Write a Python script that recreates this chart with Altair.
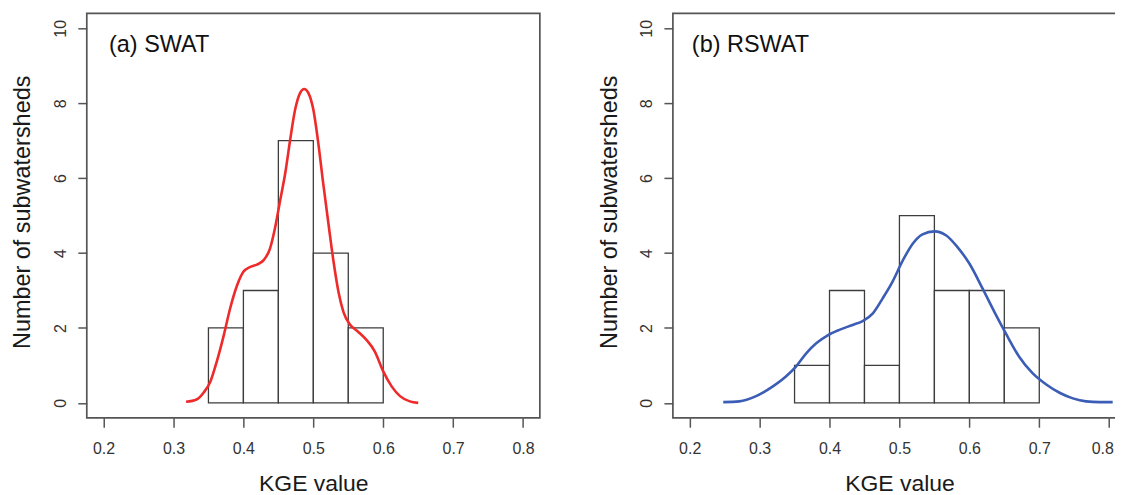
import altair as alt
import pandas as pd

FONT = "Liberation Sans"

# ---- data ----
x_ticks = [0.2, 0.3, 0.4, 0.5, 0.6, 0.7, 0.8]
y_ticks = [0, 2, 4, 6, 8, 10]
panel_labels = ["(a) SWAT", "(b) RSWAT"]

edges_a = [0.35, 0.40, 0.45, 0.50, 0.55, 0.60]
counts_a = [2, 3, 7, 4, 2]

edges_b = [0.35, 0.40, 0.45, 0.50, 0.55, 0.60, 0.65, 0.70]
counts_b = [1, 3, 1, 5, 3, 3, 2]

dens_a_x = [0.318, 0.333, 0.343, 0.353, 0.362, 0.372, 0.381, 0.391, 0.400, 0.410,
            0.419, 0.429, 0.438, 0.445, 0.452, 0.460, 0.467, 0.474, 0.481, 0.487,
            0.493, 0.500, 0.507, 0.514, 0.522, 0.529, 0.536, 0.543, 0.553, 0.564,
            0.576, 0.588, 0.600, 0.612, 0.624, 0.638, 0.650]
dens_a_y = [0.03, 0.09, 0.27, 0.58, 1.11, 1.81, 2.52, 3.14, 3.50, 3.63,
            3.69, 3.81, 4.12, 4.65, 5.35, 6.15, 7.04, 7.83, 8.27, 8.38,
            8.27, 7.83, 6.95, 5.88, 4.73, 3.76, 2.96, 2.43, 2.08, 1.90,
            1.68, 1.37, 0.84, 0.44, 0.18, 0.04, 0.0]

dens_b_x = [0.248, 0.271, 0.295, 0.319, 0.338, 0.352, 0.367, 0.381, 0.398, 0.414,
            0.433, 0.448, 0.462, 0.476, 0.490, 0.505, 0.519, 0.533, 0.550, 0.567,
            0.583, 0.600, 0.619, 0.638, 0.652, 0.671, 0.690, 0.710, 0.729, 0.748,
            0.767, 0.786, 0.805]
dens_b_y = [0.02, 0.04, 0.18, 0.44, 0.71, 0.97, 1.33, 1.59, 1.81, 1.95,
            2.08, 2.19, 2.39, 2.79, 3.23, 3.81, 4.25, 4.50, 4.58, 4.47,
            4.16, 3.72, 3.05, 2.35, 1.86, 1.24, 0.80, 0.49, 0.27, 0.12,
            0.04, 0.02, 0.02]

curve_colors = ["#ee2a2a", "#3b5db5"]

PW, PH = 454.3, 405.6


def make_panel(label, edges, counts, dx, dy, color, label_x, last_label_shift):
    bars = pd.DataFrame({"lo": edges[:-1], "hi": edges[1:], "n": counts})
    curve = pd.DataFrame({"k": dx, "d": dy})
    lab = pd.DataFrame({"t": [label]})

    xs = alt.Scale(domain=[0.176, 0.824], nice=False, zero=False)
    ys = alt.Scale(domain=[-0.4, 10.4], nice=False, zero=False)

    xa = alt.Axis(values=x_ticks, format=".1f", title="KGE value", grid=False,
                  domain=False, tickSize=9.4, tickColor="#555", tickWidth=1.5,
                  labelFont=FONT, labelFontSize=16, labelColor="#333",
                  labelBaseline="middle", labelPadding=21, labelFlush=False,
                  labelOffset={"condition": {"test": "datum.value > 0.75",
                                             "value": last_label_shift},
                               "value": 0},
                  titleFont=FONT, titleFontSize=23, titleFontWeight="normal",
                  titleColor="#1a1a1a", titleY=66, titleBaseline="middle")
    ya = alt.Axis(values=y_ticks, format="d", title="Number of subwatersheds",
                  grid=False, domain=False, tickSize=9, tickColor="#555",
                  tickWidth=1.5, labelFont=FONT, labelFontSize=16,
                  labelColor="#333", labelAngle=270, labelAlign="center",
                  labelBaseline="middle", labelPadding=17, labelFlush=False,
                  titleFont=FONT, titleFontSize=23.5, titleFontWeight="normal",
                  titleColor="#1a1a1a", titleAngle=270, titleX=-64,
                  titleY=199, titleAlign="center", titleBaseline="middle")

    rects = alt.Chart(bars).mark_rect(fill="white", stroke="#3d3d3d",
                                      strokeWidth=1.3).encode(
        x=alt.X("lo:Q", scale=xs, axis=xa),
        x2="hi:Q",
        y=alt.Y("n:Q", scale=ys, axis=ya),
        y2=alt.datum(0),
    )
    line = alt.Chart(curve).mark_line(color=color, strokeWidth=2.6,
                                      interpolate="monotone").encode(
        x=alt.X("k:Q", scale=xs),
        y=alt.Y("d:Q", scale=ys),
    )
    text = alt.Chart(lab).mark_text(align="left", baseline="middle",
                                    font=FONT, fontSize=23.5,
                                    color="#111").encode(
        x=alt.value(label_x), y=alt.value(31.6), text="t:N")
    return alt.layer(rects, line, text).properties(width=PW, height=PH)


pa = make_panel(panel_labels[0], edges_a, counts_a, dens_a_x, dens_a_y,
                curve_colors[0], 22.3, 0)
pb = make_panel(panel_labels[1], edges_b, counts_b, dens_b_x, dens_b_y,
                curve_colors[1], 19, -7)

chart = alt.hconcat(pa, pb, spacing=132.7, bounds="flush").properties(
    padding={"left": 2, "top": 3.7, "right": -12, "bottom": 0},
    background="white",
).configure_view(stroke="#555555", strokeWidth=1.7)

chart.save("out.html", embed_options={"renderer": "svg", "actions": False})
